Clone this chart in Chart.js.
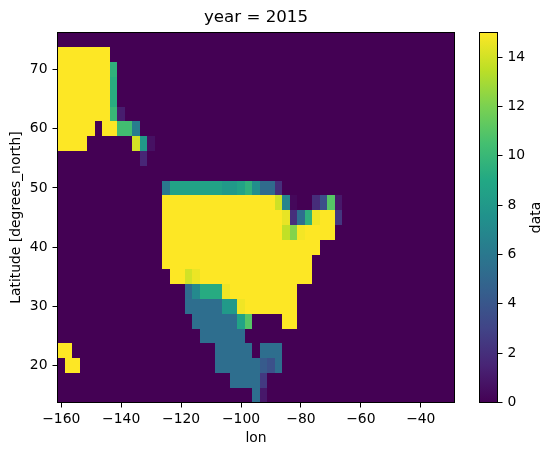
<!DOCTYPE html>
<html>
<head>
<meta charset="utf-8">
<title>year = 2015</title>
<script src="https://cdn.jsdelivr.net/npm/chart.js@4/dist/chart.umd.min.js"></script>
<style>
  html, body { margin: 0; padding: 0; background: #fff; }
  #page { position: relative; width: 554px; height: 455px; overflow: hidden; }
  #mapChart { position: absolute; left: 0; top: 0; }
  #colorbarChart { position: absolute; left: 470px; top: 0; }
</style>
</head>
<body>
<div id="page">
  <canvas id="mapChart" width="455" height="455"></canvas>
  <canvas id="colorbarChart" width="84" height="455"></canvas>
</div>
<script>
const LON_START = -160;
const LON_STEP = 2.5;
const LATITUDES = [75, 72.5, 70, 67.5, 65, 62.5, 60, 57.5, 55, 52.5, 50, 47.5, 45, 42.5, 40, 37.5, 35, 32.5, 30, 27.5, 25, 22.5, 20, 17.5, 15];
const LON_TICKS = [-160, -140, -120, -100, -80, -60, -40];
const LAT_TICKS = [20, 30, 40, 50, 60, 70];
const COLORBAR_TICKS = [0, 2, 4, 6, 8, 10, 12, 14];
const VALUE_MAX = 15;

// lignes nord -> sud, colonnes ouest -> est
const ROW_75 = [];
const ROW_725 = [15, 15, 15, 15, 15, 15, 15];
const ROW_70 = [15, 15, 15, 15, 15, 15, 15, 9.6];
const ROW_675 = [15, 15, 15, 15, 15, 15, 15, 9.3];
const ROW_65 = [15, 15, 15, 15, 15, 15, 15, 9.3];
const ROW_625 = [15, 15, 15, 15, 15, 15, 15, 10, 1.2];
const ROW_60 = [15, 15, 15, 15, 15, 0, 15, 15, 10.4, 10.4, 6.3];
const ROW_575 = [15, 15, 15, 15, 0, 0, 0, 0, 0, 0, 14, 8, 0.7];
const ROW_55 = [0, 0, 0, 0, 0, 0, 0, 0, 0, 0, 0, 1.6];
const ROW_525 = [];
const ROW_50 = [0, 0, 0, 0, 0, 0, 0, 0, 0, 0, 0, 0, 0, 0, 6, 8.6, 8.6, 8.6, 8.6, 8.6, 8.6, 8.6, 8.1, 8.1, 8.7, 9.6, 7.4, 5.2, 5.2, 2];
const ROW_475 = [0, 0, 0, 0, 0, 0, 0, 0, 0, 0, 0, 0, 0, 0, 15, 15, 15, 15, 15, 15, 15, 15, 15, 15, 15, 15, 15, 15, 15, 13.9, 6.7, 0.3, 0, 0, 1.9, 3.6, 11, 1];
const ROW_45 = [0, 0, 0, 0, 0, 0, 0, 0, 0, 0, 0, 0, 0, 0, 15, 15, 15, 15, 15, 15, 15, 15, 15, 15, 15, 15, 15, 15, 15, 15, 14.5, 2, 5.4, 9.6, 14.7, 15, 15, 2.4];
const ROW_425 = [0, 0, 0, 0, 0, 0, 0, 0, 0, 0, 0, 0, 0, 0, 15, 15, 15, 15, 15, 15, 15, 15, 15, 15, 15, 15, 15, 15, 15, 15, 13.6, 12.2, 14.8, 15, 15, 15, 15];
const ROW_40 = [0, 0, 0, 0, 0, 0, 0, 0, 0, 0, 0, 0, 0, 0, 15, 15, 15, 15, 15, 15, 15, 15, 15, 15, 15, 15, 15, 15, 15, 15, 15, 15, 15, 15, 15];
const ROW_375 = [0, 0, 0, 0, 0, 0, 0, 0, 0, 0, 0, 0, 0, 0, 15, 15, 15, 15, 15, 15, 15, 15, 15, 15, 15, 15, 15, 15, 15, 15, 15, 15, 15, 15];
const ROW_35 = [0, 0, 0, 0, 0, 0, 0, 0, 0, 0, 0, 0, 0, 0, 0, 15, 15, 14, 14.6, 15, 15, 15, 15, 15, 15, 15, 15, 15, 15, 15, 15, 15, 15, 15];
const ROW_325 = [0, 0, 0, 0, 0, 0, 0, 0, 0, 0, 0, 0, 0, 0, 0, 0, 0, 5.3, 7, 9.2, 9.2, 9.2, 14.7, 15, 15, 15, 15, 15, 15, 15, 15, 15];
const ROW_30 = [0, 0, 0, 0, 0, 0, 0, 0, 0, 0, 0, 0, 0, 0, 0, 0, 0, 5.4, 5.4, 5.4, 5.4, 5.4, 8, 8, 14.7, 15, 15, 15, 15, 15, 15, 15];
const ROW_275 = [0, 0, 0, 0, 0, 0, 0, 0, 0, 0, 0, 0, 0, 0, 0, 0, 0, 0, 5.4, 5.4, 5.4, 5.4, 5.4, 5.4, 8.7, 11, 0, 0, 0, 0, 15, 15];
const ROW_25 = [0, 0, 0, 0, 0, 0, 0, 0, 0, 0, 0, 0, 0, 0, 0, 0, 0, 0, 0, 5.4, 5.4, 5.4, 5.4, 5.4, 5.4];
const ROW_225 = [15, 15, 0, 0, 0, 0, 0, 0, 0, 0, 0, 0, 0, 0, 0, 0, 0, 0, 0, 0, 0, 5.4, 5.4, 5.4, 5.4, 5.4, 0, 5.4, 5.4, 5.4];
const ROW_20 = [0, 15, 15, 0, 0, 0, 0, 0, 0, 0, 0, 0, 0, 0, 0, 0, 0, 0, 0, 0, 0, 5.4, 5.4, 5.4, 5.4, 5.4, 5.4, 4.3, 3.7, 5.4];
const ROW_175 = [0, 0, 0, 0, 0, 0, 0, 0, 0, 0, 0, 0, 0, 0, 0, 0, 0, 0, 0, 0, 0, 0, 0, 5.4, 5.4, 5.4, 5.4, 2.5];
const ROW_15 = [0, 0, 0, 0, 0, 0, 0, 0, 0, 0, 0, 0, 0, 0, 0, 0, 0, 0, 0, 0, 0, 0, 0, 0, 0, 0, 5.4, 1];
const ROWS = [ROW_75, ROW_725, ROW_70, ROW_675, ROW_65, ROW_625, ROW_60, ROW_575, ROW_55, ROW_525, ROW_50, ROW_475, ROW_45, ROW_425, ROW_40, ROW_375, ROW_35, ROW_325, ROW_30, ROW_275, ROW_25, ROW_225, ROW_20, ROW_175, ROW_15];
const COLUMN_COUNT = 53;

const VIRIDIS = ["#440154", "#482475", "#414487", "#355f8d", "#2a788e", "#21918c", "#22a884", "#44bf70", "#7ad151", "#bddf26", "#fde725"];
const FONT_FAMILY = "'DejaVu Sans', sans-serif";

function hexToRgb(hex) {
  return [1, 3, 5].map((i) => parseInt(hex.slice(i, i + 2), 16));
}

function viridisColor(value) {
  const position = Math.min(Math.max(value / VALUE_MAX, 0), 1) * (VIRIDIS.length - 1);
  const index = Math.min(Math.floor(position), VIRIDIS.length - 2);
  const ratio = position - index;
  const from = hexToRgb(VIRIDIS[index]);
  const to = hexToRgb(VIRIDIS[index + 1]);
  const rgb = from.map((channel, i) => Math.round(channel + (to[i] - channel) * ratio));
  return `rgb(${rgb[0]}, ${rgb[1]}, ${rgb[2]})`;
}

function formatTick(value) {
  return String(value).replace("-", "\u2212");
}

const cells = [];
ROWS.forEach((row, rowIndex) => {
  const lat = LATITUDES[rowIndex];
  for (let col = 0; col < COLUMN_COUNT; col++) {
    cells.push({
      x: LON_START + col * LON_STEP,
      y: [lat - LON_STEP / 2, lat + LON_STEP / 2],
      v: row[col] ?? 0
    });
  }
});

// Cale les barres sur la grille de pixels, sinon l'anticrénelage laisse des joints entre cellules
const snapBarsPlugin = {
  id: "snapBars",
  afterDatasetsUpdate(chart) {
    chart.getDatasetMeta(0).data.forEach((bar) => {
      const left = Math.round(bar.x - bar.width / 2);
      const right = Math.round(bar.x + bar.width / 2);
      bar.x = (left + right) / 2;
      bar.width = right - left;
      bar.y = Math.round(bar.y);
      bar.base = Math.round(bar.base);
    });
  }
};

const framePlugin = {
  id: "frame",
  afterDraw(chart) {
    const { ctx, chartArea } = chart;
    ctx.save();
    ctx.strokeStyle = "#000";
    ctx.lineWidth = 1;
    ctx.strokeRect(chartArea.left, chartArea.top, chartArea.right - chartArea.left, chartArea.bottom - chartArea.top);
    ctx.restore();
  }
};

// Chart.js tourne le titre d'un axe droit dans l'autre sens, d'où ce petit plugin
const colorbarLabelPlugin = {
  id: "colorbarLabel",
  afterDraw(chart) {
    const { ctx, chartArea } = chart;
    ctx.save();
    ctx.translate(66.5, (chartArea.top + chartArea.bottom) / 2);
    ctx.rotate(-Math.PI / 2);
    ctx.font = `13.9px ${FONT_FAMILY}`;
    ctx.fillStyle = "#000";
    ctx.textAlign = "center";
    ctx.textBaseline = "middle";
    ctx.fillText("data", 0, 0);
    ctx.restore();
  }
};

const tickFont = { family: FONT_FAMILY, size: 13.9 };

new Chart(document.querySelector("#mapChart"), {
  type: "bar",
  data: {
    datasets: [{
      data: cells,
      backgroundColor: (context) => viridisColor(context.raw ? context.raw.v : 0),
      borderWidth: 0,
      inflateAmount: 0,
      barPercentage: 1,
      categoryPercentage: 1
    }]
  },
  plugins: [snapBarsPlugin, framePlugin],
  options: {
    responsive: false,
    animation: false,
    layout: { padding: { left: 0, right: 0.5, top: 0, bottom: 0 } },
    plugins: {
      legend: { display: false },
      tooltip: { enabled: false },
      title: {
        display: true,
        text: "year = 2015",
        color: "#000",
        fullSize: false,
        font: { family: FONT_FAMILY, size: 16.67, weight: "normal" },
        padding: { top: 8, bottom: 4.5 }
      }
    },
    scales: {
      x: {
        type: "linear",
        offset: false,
        min: -161.25,
        max: -28.75,
        afterBuildTicks: (scale) => { scale.ticks = LON_TICKS.map((value) => ({ value })); },
        afterFit: (scale) => { scale.height = 52.5; },
        grid: { offset: false, drawOnChartArea: false, tickLength: 5, tickColor: "#000", tickWidth: 1 },
        border: { color: "#000", width: 1 },
        ticks: { color: "#000", font: tickFont, padding: 4, maxRotation: 0, callback: formatTick },
        title: { display: true, text: "lon", color: "#000", font: tickFont, padding: { top: 0, bottom: 8 } }
      },
      y: {
        type: "linear",
        min: 13.75,
        max: 76.25,
        afterBuildTicks: (scale) => { scale.ticks = LAT_TICKS.map((value) => ({ value })); },
        afterFit: (scale) => { scale.width = 57.5; },
        grid: { drawOnChartArea: false, tickLength: 5, tickColor: "#000", tickWidth: 1 },
        border: { color: "#000", width: 1 },
        ticks: { color: "#000", font: tickFont, padding: 5, callback: formatTick },
        title: { display: true, text: "Latitude [degrees_north]", color: "#000", font: tickFont, padding: { top: 8, bottom: 0 } }
      }
    }
  }
});

new Chart(document.querySelector("#colorbarChart"), {
  type: "bar",
  data: {
    labels: ["data"],
    datasets: [{
      data: [[0, VALUE_MAX]],
      backgroundColor: (context) => {
        const { ctx, chartArea } = context.chart;
        if (!chartArea) return VIRIDIS[0];
        const gradient = ctx.createLinearGradient(0, chartArea.bottom, 0, chartArea.top);
        VIRIDIS.forEach((color, i) => gradient.addColorStop(i / (VIRIDIS.length - 1), color));
        return gradient;
      },
      borderWidth: 0,
      barPercentage: 1,
      categoryPercentage: 1
    }]
  },
  plugins: [framePlugin, colorbarLabelPlugin],
  options: {
    responsive: false,
    animation: false,
    layout: { padding: { left: 9.5, right: 0, top: 32.5, bottom: 52.5 } },
    plugins: {
      legend: { display: false },
      tooltip: { enabled: false }
    },
    scales: {
      x: { display: false },
      y: {
        position: "right",
        type: "linear",
        min: 0,
        max: VALUE_MAX,
        afterBuildTicks: (scale) => { scale.ticks = COLORBAR_TICKS.map((value) => ({ value })); },
        afterFit: (scale) => { scale.width = 56.5; },
        grid: { drawOnChartArea: false, tickLength: 5, tickColor: "#000", tickWidth: 1 },
        border: { display: false },
        ticks: { color: "#000", font: tickFont, padding: 5 }
      }
    }
  }
});
</script>
</body>
</html>
